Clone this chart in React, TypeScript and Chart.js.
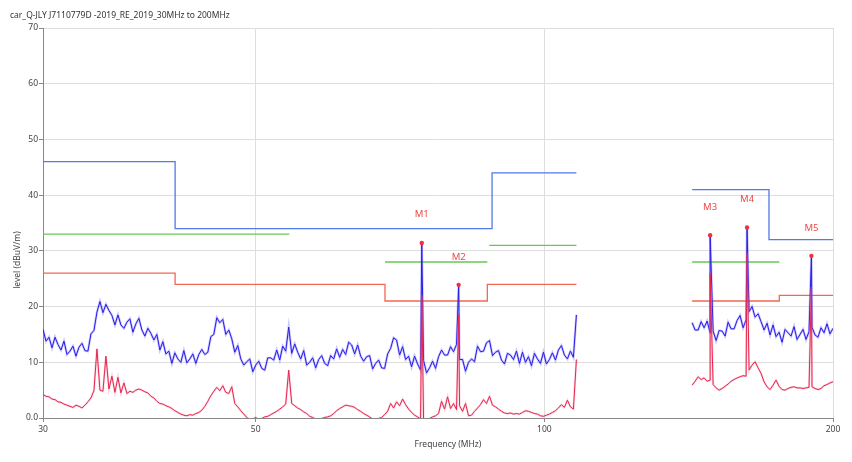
import React, { useEffect, useRef } from 'react';
import { Chart, registerables } from 'chart.js';

Chart.register(...registerables);

const TITLE = 'car_Q-JLY J7110779D -2019_RE_2019_30MHz to 200MHz';
const X_TITLE = 'Frequency (MHz)';
const Y_TITLE = 'level (dBuV/m)';
const FONT = "'Noto Sans', 'DejaVu Sans', sans-serif";
const FONT_SIZE = 8.5;

const X_TICKS = [30, 50, 100, 200];
const Y_TICKS = [0, 10, 20, 30, 40, 50, 60, 70];

// sweep ranges (MHz) of the two measured bands
const SWEEP_LOW = [30, 108];
const SWEEP_HIGH = [142.6, 200];
const GAP_FREQ = 125;

// peak trace (blue), band 30-108 MHz
const blueLow = [
  15.9, 13.8, 14.5, 12.6, 14.5, 13.2, 12.2, 13.8, 11.4, 12.0,
  12.9, 11.1, 12.7, 13.4, 12.1, 12.0, 15.1, 15.7, 19.0, 20.9,
  18.9, 20.4, 19.3, 18.4, 16.7, 18.5, 16.7, 16.1, 17.2, 17.8,
  15.4, 16.9, 17.9, 15.8, 14.7, 16.1, 15.2, 14.0, 15.0, 12.2,
  13.7, 11.5, 12.0, 9.8, 11.7, 10.6, 10.0, 12.1, 9.9, 10.6,
  11.5, 9.8, 11.4, 12.3, 11.4, 11.8, 14.6, 15.0, 18.0, 17.1,
  17.7, 15.0, 15.8, 14.2, 11.8, 13.0, 10.6, 9.5, 10.1, 10.6,
  8.3, 9.5, 10.2, 8.9, 8.6, 10.8, 10.8, 10.4, 12.2, 10.4,
  12.9, 12.0, 16.3, 11.6, 13.3, 11.8, 10.6, 12.1, 9.5, 10.0,
  10.8, 9.0, 10.5, 11.2, 9.8, 9.4, 11.2, 10.6, 12.4, 10.9,
  12.3, 11.4, 13.6, 13.1, 11.5, 13.1, 11.1, 10.2, 11.0, 11.2,
  8.8, 9.8, 10.4, 9.0, 8.9, 11.5, 12.5, 14.4, 14.0, 11.3,
  12.8, 10.5, 11.1, 9.2, 11.1, 9.7, 8.6, 10.3, 8.1, 9.0,
  10.2, 8.9, 11.0, 12.2, 11.3, 11.3, 12.8, 11.9, 13.2, 10.5,
  10.5, 8.4, 10.0, 10.6, 10.1, 12.9, 11.9, 12.0, 13.5, 13.9,
  11.2, 11.8, 12.1, 10.4, 9.7, 11.6, 11.3, 10.5, 12.0, 9.8,
  11.8, 10.0, 11.0, 9.4, 11.6, 10.6, 9.8, 11.8, 9.7, 10.5,
  11.7, 10.4, 12.2, 13.0, 11.3, 10.6, 12.0, 10.9, 18.5,
];

// average trace (red), band 30-108 MHz
const redLow = [
  4.2, 3.9, 3.8, 3.4, 3.3, 2.9, 2.8, 2.5, 2.3, 2.1,
  1.9, 2.3, 2.1, 1.8, 2.3, 2.9, 3.6, 4.9, 12.4, 5.0,
  4.8, 11.1, 5.2, 7.5, 4.6, 7.3, 4.5, 6.3, 4.4, 4.8,
  4.6, 5.0, 5.2, 5.0, 4.7, 4.5, 3.9, 3.6, 3.0, 2.6,
  2.5, 2.2, 2.0, 1.7, 1.3, 1.0, 0.7, 0.5, 0.4, 0.6,
  0.5, 0.8, 1.0, 1.4, 2.1, 3.0, 4.0, 4.8, 5.5, 4.9,
  5.8, 4.6, 4.4, 5.6, 2.6, 2.0, 1.3, 0.7, 0.1, -0.3,
  -0.2, 0.1, -0.3, -0.1, 0.2, 0.3, 0.6, 0.9, 1.2, 1.6,
  2.0, 2.5, 8.6, 2.6, 2.2, 1.8, 1.5, 1.1, 0.8, 0.3,
  0.1, -0.2, -0.3, -0.1, 0.1, 0.2, 0.4, 0.8, 1.3, 1.7,
  2.0, 2.3, 2.2, 2.1, 1.9, 1.5, 1.2, 0.8, 0.5, 0.2,
  -0.2, -0.3, -0.1, 0.1, 0.6, 1.2, 2.6, 1.8, 2.9, 2.2,
  3.4, 2.4, 1.6, 1.0, 0.5, 0.2, -0.2, -0.3, -0.2, -0.1,
  0.2, 0.4, 0.8, 3.0, 1.6, 3.8, 1.7, 2.6, 1.5, 2.2,
  1.2, 2.6, 0.4, 0.5, 1.2, 1.8, 2.4, 3.3, 2.6, 3.9,
  2.3, 2.0, 1.6, 1.2, 0.9, 0.8, 0.9, 0.7, 0.8, 0.7,
  1.0, 1.3, 1.2, 1.0, 0.8, 0.7, 0.4, 0.3, 0.5, 0.7,
  1.0, 1.3, 1.8, 2.4, 1.9, 3.2, 2.0, 1.6, 10.5,
];

// peak trace (blue), band 142-200 MHz
const blueHigh = [
  17.1, 15.8, 15.8, 17.3, 16.2, 17.4, 15.3, 15.6, 13.9, 15.7,
  15.6, 14.7, 17.2, 16.0, 16.0, 17.5, 18.4, 16.2, 17.6, 19.1,
  20.0, 18.1, 18.7, 17.3, 15.8, 17.0, 14.9, 16.7, 14.6, 15.4,
  13.6, 15.9, 15.3, 14.7, 16.4, 14.1, 15.0, 15.9, 14.1, 15.5,
  16.3, 14.9, 14.5, 16.2, 15.3, 16.9, 15.1, 16.1,
];

// average trace (red), band 142-200 MHz
const redHigh = [
  5.9, 6.6, 7.4, 6.9, 7.2, 6.6, 6.8, 6.0, 5.4, 5.0,
  5.3, 5.7, 6.1, 6.6, 6.9, 7.2, 7.4, 7.6, 7.5, 8.6,
  9.5, 10.1, 9.0, 8.0, 6.5, 5.6, 5.1, 5.9, 6.8, 5.7,
  5.1, 5.0, 5.3, 5.5, 5.6, 5.4, 5.4, 5.3, 5.4, 5.5,
  5.6, 5.3, 5.1, 5.3, 5.8, 6.0, 6.3, 6.5,
];

// markers
const markerNames = ['M1', 'M2', 'M3', 'M4', 'M5'];
const markerFreq = [74.5, 81.4, 148.9, 162.7, 189.9];
const markerPeak = [31.4, 23.9, 32.8, 34.2, 29.1];
const markerAvg = [22, 18.5, 26, 29.5, 23.5];
const markerLabelLevel = [36.5, 28.8, 37.8, 39.3, 34.0];

// limit lines (null = break)
const peakLimitFreq = [30, 41.2, 41.2, 88.2, 88.2, 108, GAP_FREQ, 142.6, 171.5, 171.5, 200];
const peakLimitLevel = [46, 46, 34, 34, 44, 44, null, 41, 41, 32, 32];

const qpLimitFreq = [30, 54.2, 60, 68.2, 87.2, 87.4, 87.6, 108, GAP_FREQ, 142.6, 175.8];
const qpLimitLevel = [33, 33, null, 28, 28, null, 31, 31, null, 28, 28];

const avgLimitFreq = [30, 41.2, 41.2, 68.2, 68.2, 87.2, 87.2, 108, GAP_FREQ, 142.6, 175.8, 175.8, 200];
const avgLimitLevel = [26, 26, 24, 24, 21, 21, 24, 24, null, 21, 21, 22, 22];

type Pt = { x: number; y: number | null };

function sweep(range: number[], values: number[]): Pt[] {
  const [start, stop] = range;
  const n = values.length;
  return values.map((v, i) => ({ x: start * Math.pow(stop / start, i / (n - 1)), y: v }));
}

function withMarkers(points: Pt[], peaks: number[]): Pt[] {
  const lo = points[0].x;
  const hi = points[points.length - 1].x;
  const extra = markerFreq
    .map((f, i) => ({ x: f, y: peaks[i] }))
    .filter((p) => p.x > lo && p.x < hi);
  return [...points, ...extra].sort((a, b) => a.x - b.x);
}

function series(freqs: number[], levels: (number | null)[]): Pt[] {
  return freqs.map((f, i) => ({ x: f, y: levels[i] }));
}

const textPlugin = {
  id: 'texts',
  afterDraw(chart: any) {
    const { ctx } = chart;
    const xs = chart.scales.x;
    const ys = chart.scales.y;
    ctx.save();
    ctx.textBaseline = 'middle';
    ctx.font = `${FONT_SIZE}px ${FONT}`;
    ctx.fillStyle = '#333333';
    ctx.textAlign = 'left';
    ctx.fillText(TITLE, 10, 16);
    ctx.fillStyle = '#444444';
    ctx.textAlign = 'center';
    ctx.fillText(X_TITLE, 448, 445);
    ctx.save();
    ctx.translate(18, 260);
    ctx.rotate(-Math.PI / 2);
    ctx.fillText(Y_TITLE, 0, 0);
    ctx.restore();
    ctx.fillStyle = 'rgb(236,72,72)';
    ctx.font = `9.5px ${FONT}`;
    markerNames.forEach((n, i) => {
      ctx.fillText(n, xs.getPixelForValue(markerFreq[i]), ys.getPixelForValue(markerLabelLevel[i]));
    });
    ctx.restore();
  },
};

export default function App() {
  const ref = useRef<HTMLCanvasElement | null>(null);

  useEffect(() => {
    if (!ref.current) return;
    const gap: Pt = { x: GAP_FREQ, y: null };
    const blueData = [
      ...withMarkers(sweep(SWEEP_LOW, blueLow), markerPeak),
      gap,
      ...withMarkers(sweep(SWEEP_HIGH, blueHigh), markerPeak),
    ];
    const redData = [
      ...withMarkers(sweep(SWEEP_LOW, redLow), markerAvg),
      gap,
      ...withMarkers(sweep(SWEEP_HIGH, redHigh), markerAvg),
    ];
    const lineBase = {
      type: 'line' as const,
      pointRadius: 0,
      tension: 0,
      fill: false,
      spanGaps: false,
    };
    const chart = new Chart(ref.current, {
      type: 'line',
      data: {
        datasets: [
          {
            type: 'scatter',
            data: markerFreq.map((f, i) => ({ x: f, y: markerPeak[i] })),
            pointRadius: 2.2,
            pointBackgroundColor: 'rgb(232,52,64)',
            pointBorderWidth: 0,
            showLine: false,
          } as any,
          { ...lineBase, data: redData, borderColor: 'rgb(230,36,78)', borderWidth: 1 },
          { ...lineBase, data: redData, borderColor: 'rgba(240,120,150,0.3)', borderWidth: 2.2 },
          { ...lineBase, data: blueData, borderColor: 'rgb(40,28,232)', borderWidth: 1 },
          { ...lineBase, data: blueData, borderColor: 'rgba(120,110,250,0.4)', borderWidth: 2.4 },
          { ...lineBase, data: series(peakLimitFreq, peakLimitLevel), borderColor: 'rgb(82,122,232)', borderWidth: 1.3 },
          { ...lineBase, data: series(qpLimitFreq, qpLimitLevel), borderColor: 'rgb(104,200,84)', borderWidth: 1.3 },
          { ...lineBase, data: series(avgLimitFreq, avgLimitLevel), borderColor: 'rgb(242,104,82)', borderWidth: 1.3 },
        ],
      },
      options: {
        animation: false,
        responsive: false,
        devicePixelRatio: 1,
        layout: { padding: { left: 0, right: 19, top: 28, bottom: 0 } },
        plugins: { legend: { display: false }, tooltip: { enabled: false }, title: { display: false } },
        events: [],
        scales: {
          x: {
            type: 'logarithmic',
            min: 30,
            max: 200,
            afterBuildTicks: (s: any) => {
              s.ticks = X_TICKS.map((v) => ({ value: v }));
            },
            afterFit: (s: any) => {
              s.height = 44;
            },
            ticks: {
              autoSkip: false,
              maxRotation: 0,
              padding: 2,
              color: '#444444',
              font: { size: FONT_SIZE, family: FONT },
              callback: (v: any) => String(v),
            },
            grid: { color: '#dedede', tickLength: 4, tickColor: '#888888' },
            border: { color: '#888888' },
          },
          y: {
            type: 'linear',
            min: 0,
            max: 70,
            afterBuildTicks: (s: any) => {
              s.ticks = Y_TICKS.map((v) => ({ value: v }));
            },
            afterFit: (s: any) => {
              s.width = 43;
            },
            ticks: {
              padding: 1,
              color: '#444444',
              font: { size: FONT_SIZE, family: FONT },
              callback: (v: any) => (v === 0 ? '0.0' : String(v)),
            },
            grid: { color: '#dedede', tickLength: 4, tickColor: '#888888' },
            border: { color: '#888888' },
          },
        },
      },
      plugins: [textPlugin],
    } as any);
    return () => chart.destroy();
  }, []);

  return (
    <div style={{ position: 'fixed', left: 0, top: 0, width: 852, height: 462, background: '#ffffff' }}>
      <canvas ref={ref} width={852} height={462} style={{ width: 852, height: 462, display: 'block' }} />
    </div>
  );
}
